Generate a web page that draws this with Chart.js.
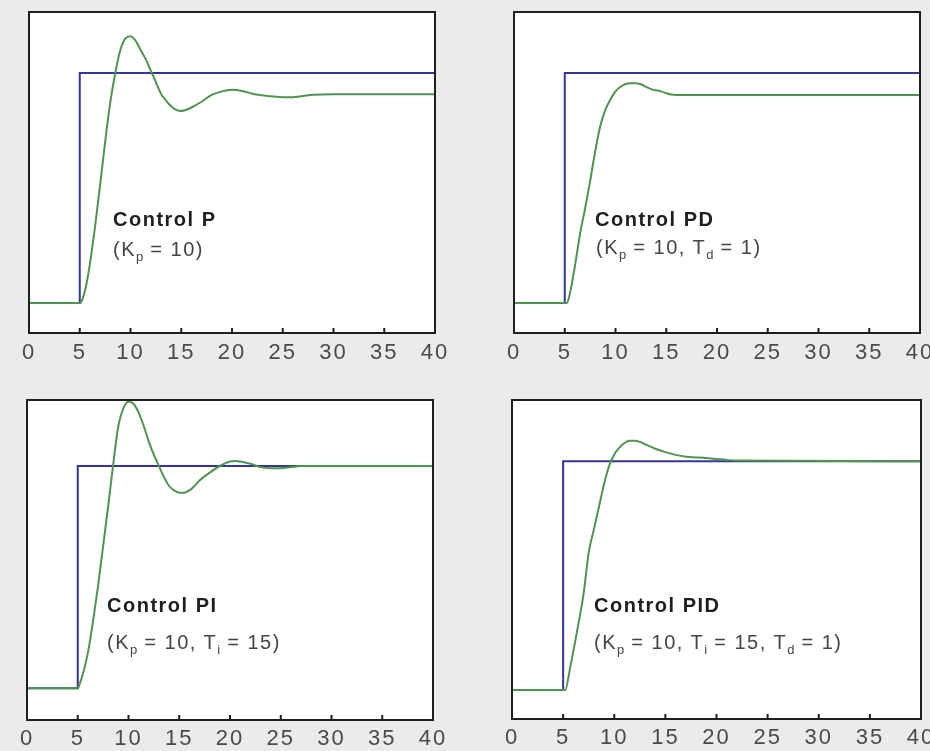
<!DOCTYPE html>
<html>
<head>
<meta charset="utf-8">
<title>Control P / PD / PI / PID</title>
<script src="https://cdn.jsdelivr.net/npm/chart.js@4.4.0/dist/chart.umd.min.js"></script>
<style>
    body {
        margin: 0;
        width: 930px;
        height: 751px;
        overflow: hidden;
        position: relative;
        background: #ebebeb;
        font-family: "Liberation Sans", Arial, sans-serif;
    }
    .panel { position: absolute; }
    .label {
        position: absolute;
        white-space: nowrap;
        font-size: 20px;
        line-height: 20px;
        letter-spacing: 1.5px;
    }
    .title { font-weight: bold; color: #1e1e1e; }
    .params { color: #444; }
    .label sub { font-size: 13px; vertical-align: -5px; line-height: 0; letter-spacing: 0; }
</style>
</head>
<body>

<div class="panel" style="left:0;top:0;width:465px;height:375px"><canvas id="chartP"></canvas></div>
<div class="panel" style="left:465px;top:0;width:475px;height:375px"><canvas id="chartPD"></canvas></div>
<div class="panel" style="left:0;top:380px;width:465px;height:371px"><canvas id="chartPI"></canvas></div>
<div class="panel" style="left:465px;top:380px;width:475px;height:371px"><canvas id="chartPID"></canvas></div>

<div class="label title" style="left:113px;top:209px">Control P</div>
<div class="label params" style="left:113px;top:239px">(K<sub>p</sub> = 10)</div>

<div class="label title" style="left:595px;top:209px">Control PD</div>
<div class="label params" style="left:596px;top:237px">(K<sub>p</sub> = 10, T<sub>d</sub> = 1)</div>

<div class="label title" style="left:107px;top:595px">Control PI</div>
<div class="label params" style="left:107px;top:632px">(K<sub>p</sub> = 10, T<sub>i</sub> = 15)</div>

<div class="label title" style="left:594px;top:595px">Control PID</div>
<div class="label params" style="left:594px;top:632px">(K<sub>p</sub> = 10, T<sub>i</sub> = 15, T<sub>d</sub> = 1)</div>

<script>
// Set point (step at t = 5)
const setTime  = [0, 5, 5, 40];
const setLevel = [0, 0, 1, 1];

// x axis tick labels
const tickValues = [0, 5, 10, 15, 20, 25, 30, 35, 40];

// Control P (Kp = 10)
const timeP = [0, 5, 5.2, 5.6, 6, 6.5, 7, 7.5, 8, 8.5, 9, 9.5, 10, 10.5, 11, 11.5, 12, 12.5, 13, 13.5,
               14, 14.5, 15, 15.5, 16, 17, 18, 19, 20, 21, 22, 23, 24, 25, 26, 27, 28, 30, 40];
const outP  = [0, 0, 0.01, 0.07, 0.17, 0.33, 0.51, 0.70, 0.87, 1.00, 1.10, 1.15, 1.16, 1.14, 1.10, 1.06, 1.01, 0.96, 0.91, 0.88,
               0.855, 0.84, 0.835, 0.84, 0.85, 0.875, 0.905, 0.92, 0.927, 0.922, 0.91, 0.903, 0.898, 0.895, 0.895, 0.90, 0.905, 0.908, 0.908];

// Control PD (Kp = 10, Td = 1)
const timePD = [0, 5, 5.2, 5.5, 6, 6.5, 7, 7.5, 8, 8.5, 9, 9.5, 10, 10.5, 11, 11.5, 12, 12.5, 13, 13.5,
                14, 14.5, 15, 15.5, 16, 40];
const outPD  = [0, 0, 0, 0.04, 0.16, 0.30, 0.41, 0.53, 0.66, 0.77, 0.84, 0.885, 0.92, 0.94, 0.952, 0.955, 0.955, 0.951, 0.94, 0.93,
                0.925, 0.92, 0.912, 0.906, 0.904, 0.904];

// Control PI (Kp = 10, Ti = 15)
const timePI = [0, 5, 5.2, 5.6, 6, 6.5, 7, 7.5, 8, 8.5, 9, 9.5, 10, 10.5, 11, 11.5, 12, 12.5, 13, 13.5,
                14, 14.5, 15, 15.5, 16, 16.5, 17, 18, 19, 20, 20.5, 21, 22, 23, 24, 25, 26, 27, 28, 40];
const outPI  = [0, 0, 0.02, 0.08, 0.16, 0.30, 0.46, 0.64, 0.82, 1.01, 1.18, 1.26, 1.29, 1.28, 1.24, 1.18, 1.11, 1.05, 1.00, 0.95,
                0.91, 0.89, 0.88, 0.88, 0.89, 0.91, 0.935, 0.97, 1.00, 1.02, 1.022, 1.02, 1.01, 0.995, 0.99, 0.99, 0.995, 1.0, 1.0, 1.0];

// Control PID (Kp = 10, Ti = 15, Td = 1)
const timePID = [0, 5, 5.2, 5.7, 6, 6.5, 7, 7.5, 8, 8.5, 9, 9.5, 10, 10.5, 11, 11.5, 12, 12.5, 13,
                 14, 15, 16, 17, 18, 19, 20, 21, 22, 40];
const outPID  = [0, 0, 0, 0.10, 0.17, 0.29, 0.42, 0.60, 0.70, 0.80, 0.90, 0.98, 1.03, 1.06, 1.08, 1.09, 1.09, 1.085, 1.075,
                 1.055, 1.04, 1.028, 1.02, 1.017, 1.014, 1.01, 1.006, 1.003, 1.0];

const toPoints = (xs, ys) => xs.map((x, i) => ({ x: x, y: ys[i] }));

// White plot area, dark frame and small inward ticks
const framePlugin = {
    id: 'frame',
    beforeDraw(chart) {
        chart.ctx.letterSpacing = '2px';
    },
    beforeDatasetsDraw(chart) {
        const { ctx, chartArea: a } = chart;
        ctx.save();
        ctx.fillStyle = '#ffffff';
        ctx.fillRect(a.left, a.top, a.right - a.left, a.bottom - a.top);
        ctx.restore();
    },
    afterDatasetsDraw(chart) {
        const { ctx, chartArea: a, scales: { x } } = chart;
        ctx.save();
        ctx.strokeStyle = '#1e1e1e';
        ctx.lineWidth = 2;
        ctx.strokeRect(a.left, a.top, a.right - a.left, a.bottom - a.top);
        x.ticks.forEach(t => {
            const px = x.getPixelForValue(t.value);
            ctx.beginPath();
            ctx.moveTo(px, a.bottom);
            ctx.lineTo(px, a.bottom - 5);
            ctx.stroke();
        });
        ctx.restore();
    }
};

function makeChart(id, times, outs, layout) {
    return new Chart(document.getElementById(id), {
        type: 'line',
        data: {
            datasets: [
                {
                    data: toPoints(times, outs),
                    borderColor: '#4f944f',
                    borderWidth: 2,
                    pointRadius: 0,
                    cubicInterpolationMode: 'monotone'
                },
                {
                    data: toPoints(setTime, setLevel),
                    borderColor: '#34349a',
                    borderWidth: 2,
                    pointRadius: 0,
                    tension: 0
                }
            ]
        },
        options: {
            responsive: true,
            maintainAspectRatio: false,
            animation: false,
            events: [],
            layout: {
                padding: { left: layout.left, right: layout.right, top: layout.top, bottom: 0 }
            },
            plugins: {
                legend: { display: false },
                tooltip: { enabled: false }
            },
            scales: {
                x: {
                    type: 'linear',
                    min: 0,
                    max: 40,
                    grid: { display: false, drawTicks: false },
                    border: { display: false },
                    afterBuildTicks: scale => {
                        scale.ticks = tickValues.map(v => ({ value: v }));
                    },
                    afterFit: scale => {
                        scale.height = layout.axisHeight;
                    },
                    ticks: {
                        autoSkip: false,
                        maxRotation: 0,
                        padding: layout.tickPad,
                        color: '#4a4a4a',
                        font: { family: '"Liberation Sans", Arial, sans-serif', size: 22 }
                    }
                },
                y: {
                    display: false,
                    min: layout.yMin,
                    max: layout.yMax
                }
            }
        },
        plugins: [framePlugin]
    });
}

makeChart('chartP', timeP, outP,
    { left: 29, right: 30, top: 12, axisHeight: 42, tickPad: 7, yMin: -0.13, yMax: 1.265 });
makeChart('chartPD', timePD, outPD,
    { left: 49, right: 20, top: 12, axisHeight: 42, tickPad: 7, yMin: -0.13, yMax: 1.265 });
makeChart('chartPI', timePI, outPI,
    { left: 27, right: 32, top: 20, axisHeight: 31, tickPad: 6, yMin: -0.143, yMax: 1.297 });
makeChart('chartPID', timePID, outPID,
    { left: 47, right: 19, top: 20, axisHeight: 32, tickPad: 6, yMin: -0.127, yMax: 1.268 });
</script>
</body>
</html>
